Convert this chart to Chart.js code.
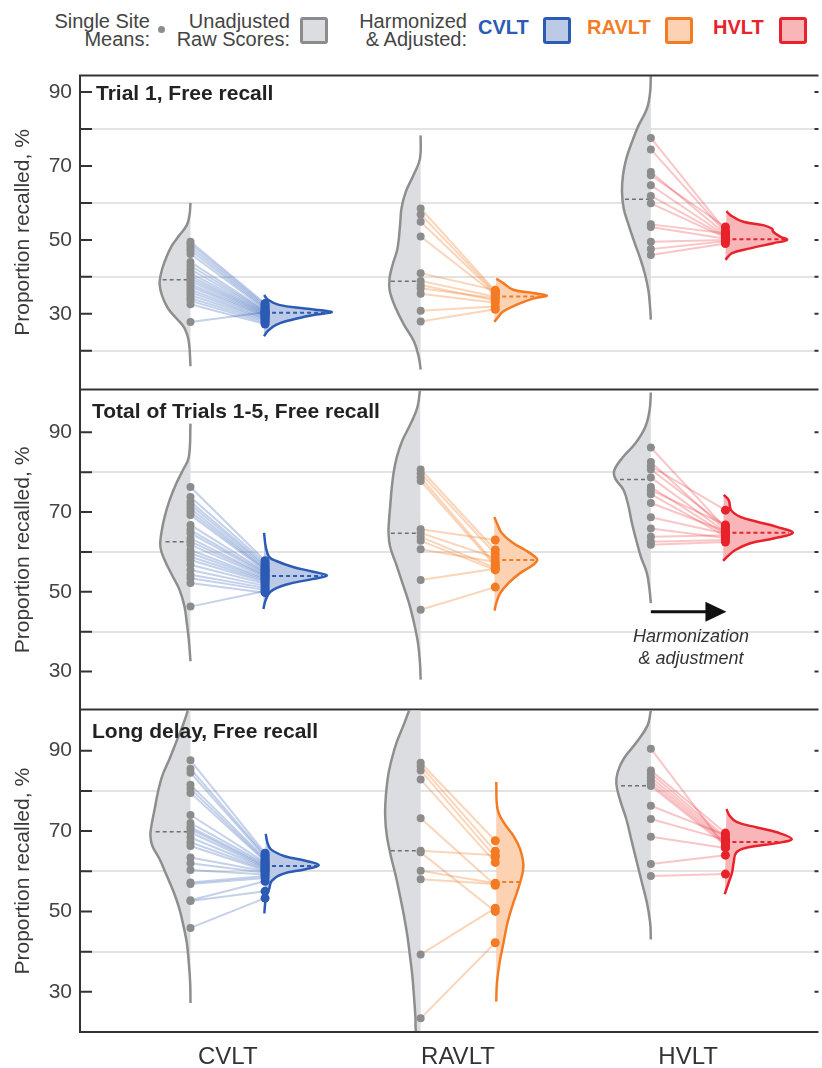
<!DOCTYPE html>
<html>
<head>
<meta charset="utf-8">
<script src="https://cdn.jsdelivr.net/npm/chart.js@4.4.1/dist/chart.umd.min.js"></script>
<style>
  body { margin: 0; background: #fff; font-family: 'Liberation Sans', Arial, sans-serif; }
  #page { position: relative; width: 822px; height: 1068px; overflow: hidden; background: #fff; }
  .panel { position: absolute; left: 0; }
  .panel canvas { display: block; }
  .legend-text { position: absolute; font-size: 20px; line-height: 17.5px; color: #444; text-align: right; white-space: nowrap; }
  .legend-test { position: absolute; top: 17px; font-size: 20px; font-weight: bold; line-height: 20px; white-space: nowrap; }
  .swatch { position: absolute; top: 17px; width: 22px; height: 21px; border: 3px solid; border-radius: 3px; }
  .legend-dot { position: absolute; left: 158px; top: 26px; width: 7px; height: 7px; border-radius: 50%; background: #8c8c8c; }
  .panel-title { position: absolute; font-size: 21px; font-weight: bold; line-height: 21px; color: #222; white-space: nowrap; z-index: 2; }
  .note { position: absolute; width: 160px; font-size: 18px; font-style: italic; line-height: 22px; color: #333; text-align: center; z-index: 2; }
</style>
</head>
<body>
<div id="page">
  <div class="legend-text" style="right: 672px; top: 13px;">Single Site<br>Means:</div>
  <div class="legend-dot"></div>
  <div class="legend-text" style="right: 532px; top: 13px;">Unadjusted<br>Raw Scores:</div>
  <div class="swatch" style="left: 300px; border-color: #8c8c8c; background: #dcdde0;"></div>
  <div class="legend-text" style="right: 355px; top: 13px;">Harmonized<br>&amp; Adjusted:</div>
  <div class="legend-test" style="left: 478px; color: #2b5bb4;">CVLT</div>
  <div class="swatch" style="left: 543px; border-color: #2b5bb4; background: #bccae6;"></div>
  <div class="legend-test" style="left: 587px; color: #f47b24;">RAVLT</div>
  <div class="swatch" style="left: 665px; border-color: #f47b24; background: #fcd2b3;"></div>
  <div class="legend-test" style="left: 713px; color: #e8222b;">HVLT</div>
  <div class="swatch" style="left: 779px; border-color: #e8222b; background: #f8b6b9;"></div>

  <div class="panel" style="top: 71px;"><canvas id="panel1" width="822" height="323"></canvas></div>
  <div class="panel" style="top: 386px;"><canvas id="panel2" width="822" height="328"></canvas></div>
  <div class="panel" style="top: 706px;"><canvas id="panel3" width="822" height="362"></canvas></div>

  <div class="panel-title" id="title1" style="left: 96px; top: 82px;"></div>
  <div class="panel-title" id="title2" style="left: 92px; top: 400px;"></div>
  <div class="panel-title" id="title3" style="left: 92px; top: 720px;"></div>
  <div class="note" style="left: 611px; top: 625px;">Harmonization<br>&amp; adjustment</div>
</div>
<script>
const tests = ['CVLT', 'RAVLT', 'HVLT'];
const panelTitles = ['Trial 1, Free recall', 'Total of Trials 1-5, Free recall', 'Long delay, Free recall'];
const yTickValues = [10, 20, 30, 40, 50, 60, 70, 80, 90, 100];
const yTickLabels = [30, 50, 70, 90];
const gridValues = [20, 40, 60, 80];
const trial1Range = [9.5, 94.5];
const totalRange = [20.5, 100.5];
const delayRange = [20, 100];

// site means (%), raw and harmonized, same order so index k is one site
const trial1RawCVLT = [49.5, 48.8, 48, 47.2, 46.2, 44, 43, 42, 41, 40.2, 39.5, 38.8, 38, 37.3, 36.5, 35.8, 35, 34.2, 33.5, 32.6, 27.8];
const trial1AdjCVLT = [32.8, 32.4, 32, 31.6, 31.3, 31, 30.7, 30.5, 30.3, 30.1, 29.9, 29.7, 29.5, 29.3, 29, 28.7, 28.4, 28, 27.6, 27.2, 30.4];
const trial1RawRAVLT = [58.5, 56.9, 54.9, 50.9, 41, 38.9, 37.8, 36.9, 35.4, 30.8, 27.9];
const trial1AdjRAVLT = [36.2, 35.8, 35.5, 35.2, 36.4, 34.6, 33.6, 34.2, 33, 32, 31.2];
const trial1RawHVLT = [77.6, 74.5, 68.4, 67.5, 64.8, 61.9, 59.9, 54.2, 53.5, 49.5, 47.5, 45.9];
const trial1AdjHVLT = [52.5, 52, 51.6, 53.5, 51.2, 50.9, 50.6, 51.8, 50.3, 50, 49.6, 49];

const totalRawCVLT = [76.3, 73.8, 72.6, 71.8, 70.9, 70.1, 69.3, 66.8, 65.5, 64.7, 63.4, 62.6, 61.8, 60.5, 59.7, 58.8, 58, 56.8, 55.5, 54.3, 53.4, 52.2, 46.3];
const totalAdjCVLT = [57.8, 57.3, 56.8, 56.4, 56, 55.7, 55.4, 55.1, 54.8, 54.5, 54.2, 54, 53.7, 53.4, 53.1, 52.8, 52.4, 52, 51.5, 51, 50.5, 49.8, 50.2];
const totalRawRAVLT = [80.7, 79.7, 78.7, 77.8, 65.7, 64.8, 63.8, 62.8, 60.7, 53, 45.5];
const totalAdjRAVLT = [60.5, 59.5, 57, 56.5, 63, 58.5, 56, 55.5, 57.5, 55.8, 51.2];
const totalRawHVLT = [86.2, 82.6, 81.5, 80.7, 78.7, 76.3, 75.5, 74.5, 72.3, 68.7, 65.9, 63.8, 62.6, 61.8];
const totalAdjHVLT = [66, 65.5, 70.5, 66.5, 65, 64.5, 66.8, 64, 65.2, 64.6, 63.5, 64.2, 63, 62.5];

const delayRawCVLT = [87.6, 85.5, 84.5, 81.5, 80.5, 79.5, 74, 72, 71, 70.5, 69.7, 68.4, 67.2, 66.3, 63.4, 62, 60.3, 57.2, 56.8, 52.8, 52.6, 45.9];
const delayAdjCVLT = [64.5, 64, 63.6, 63.2, 62.8, 62.5, 62.2, 61.9, 61.6, 61.3, 61, 60.8, 60.5, 60.2, 60, 59.6, 59.2, 58.8, 58.3, 57.5, 55, 53.3];
const delayRawRAVLT = [87, 86.2, 85.1, 82.8, 73.2, 65.1, 64.7, 60.1, 58, 39.3, 23.4];
const delayAdjRAVLT = [67.6, 65, 63.5, 62.2, 56.5, 64, 50, 57, 56.8, 50.8, 42.2];
const delayRawHVLT = [90.5, 85.1, 84.3, 83.4, 82.6, 81.8, 81.2, 76.3, 73, 68.6, 61.8, 58.8];
const delayAdjHVLT = [66, 69.5, 68.5, 68, 67.5, 67, 66.5, 69, 67.8, 65.8, 64, 59.3];

// half-violin density profiles: [score %, density]
const trial1RawViolinCVLT = [[60, 0], [56.7, 1], [54, 3.7], [51.3, 11], [48.2, 19.3], [44.1, 26], [40.5, 30], [37.8, 31], [34.7, 28.3], [31.5, 22.7], [28.8, 14.3], [26.1, 6], [22.5, 1.7], [15.8, 0]];
const trial1AdjViolinCVLT = [[35.1, -1], [33.8, 3], [32.4, 14], [31.4, 40], [30.5, 67], [29.6, 47], [28.4, 27], [27, 11], [25.2, 2.3], [23.9, -1]];
const trial1RawViolinRAVLT = [[78.3, 0], [72, 0.7], [67.5, 7.3], [63, 15], [58.5, 19.3], [54, 20.7], [47.7, 23.3], [43.2, 28.3], [39.6, 31.3], [36, 31], [31.5, 25], [27, 16.7], [22.5, 6.7], [18, 1.7], [14.9, 0]];
const trial1AdjViolinRAVLT = [[39.5, 1], [38.3, 8], [36.5, 18], [35.6, 38], [34.9, 52], [34.1, 38], [32.4, 21], [30.6, 8], [28.8, 2], [27.8, -1]];
const trial1RawViolinHVLT = [[96, 0], [90, 0.7], [85.5, 4], [81, 12.3], [76.5, 19], [72, 24.7], [67.5, 28], [63, 29], [58.5, 27.3], [54, 22.3], [49.5, 16.7], [45, 10.7], [40.5, 5.7], [36, 2.3], [31.5, 0.7], [28.4, 0]];
const trial1AdjViolinHVLT = [[57.8, 1], [56.7, 5], [54.9, 18], [54, 38], [53, 47], [52.2, 48], [50.9, 55], [50, 62], [49.1, 48], [47.7, 25], [46.4, 6.7], [44.6, 0]];

const totalRawViolinCVLT = [[92.2, 0], [83.8, 1.7], [80.5, 7.7], [77.2, 14.3], [73, 21], [68.8, 26], [64.7, 29.3], [61.3, 30.3], [58, 26], [53.8, 17.7], [50.5, 11], [46.3, 6], [42.2, 3.7], [38, 1.7], [32.6, 0]];
const totalAdjViolinCVLT = [[64.8, -1], [61.3, 0.7], [58.8, 4], [57.8, 10.7], [56.3, 27.3], [55.1, 47.3], [54.1, 62.3], [53.2, 47.3], [51.8, 20.7], [50.1, 5.7], [48, 0.7], [45.7, -1.7]];
const totalRawViolinRAVLT = [[101, 0.5], [96.3, 3.3], [92.2, 10], [88, 18.3], [83.8, 24], [79.7, 27.3], [75.5, 29.3], [71.3, 30.7], [67.2, 32], [64.7, 32.3], [61.3, 30.7], [57.2, 25], [52.2, 18.3], [47.2, 11.7], [42.2, 6.7], [37.2, 2.7], [32.2, 0.7], [28, 0]];
const totalAdjViolinRAVLT = [[68.8, -1], [67.2, 1.7], [64.7, 6.7], [62.2, 18.3], [60.5, 30], [58.8, 40], [58, 42.3], [56.8, 38.3], [54.7, 25], [52.2, 13.3], [49.7, 5], [47.2, 1], [45.3, -0.7]];
const totalRawViolinHVLT = [[100, 0], [95.5, 1.3], [91.3, 5.7], [87.2, 15.7], [83.8, 28], [80.5, 36.7], [78.4, 35.7], [75.5, 27.3], [71.3, 22.3], [67.2, 19], [63, 14.7], [58.8, 10], [54.7, 4], [50.5, 1.3], [47.2, 0]];
const totalAdjViolinHVLT = [[74.3, -1.7], [73, 3.3], [70.5, 5.7], [68.8, 15], [67.6, 31.7], [66.3, 51.7], [64.8, 67.7], [63.4, 48.3], [62.2, 25], [60.5, 10], [58.8, 1.7], [57.8, -2.3]];

const delayRawViolinCVLT = [[103, 0], [100, 2.7], [96.3, 7.7], [92.2, 14.3], [88, 21], [83.8, 28.3], [79.7, 32.7], [75.5, 36], [71.3, 39.3], [68.8, 40.3], [66.3, 38.3], [63, 31], [58.8, 23.7], [54.7, 16.7], [50.5, 11], [46.3, 7], [42.2, 3.7], [37.2, 1.7], [32.2, 0.3], [27.2, 0]];
const delayAdjViolinCVLT = [[69.3, 0.7], [67.2, 2.3], [65.5, 5.7], [63.8, 19], [62.6, 40.7], [61.5, 54], [60.5, 40.7], [59.3, 17.3], [57.6, 6.7], [55.5, 4], [53.8, 1.3], [51.8, 0], [49.5, -0.7]];
const delayRawViolinRAVLT = [[106, 0], [100.5, 10.7], [96.3, 17.3], [92.2, 24], [88, 29], [83.8, 32.7], [78.8, 35], [73.8, 35.7], [68.8, 34], [63.8, 30], [58.8, 25], [53.8, 20.7], [48.8, 16.7], [43.8, 13.3], [38.8, 10.7], [33.8, 8.3], [28.8, 6.7], [23.8, 5.3], [20, 4.7], [15, 0]];
const delayAdjViolinRAVLT = [[82.2, 1], [75.5, 2.3], [72.2, 8.3], [68.8, 18.3], [65.5, 25], [61.3, 28.3], [57.2, 25], [52.2, 18.3], [47.2, 12.3], [42.2, 8.3], [37.2, 4.3], [32.2, 1.7], [27.6, 1]];
const delayRawViolinHVLT = [[100, 0], [96.3, 3.3], [92.2, 14], [88, 27.3], [84.7, 33.3], [81.8, 34.7], [78, 31.3], [73, 24.7], [67.2, 19], [62.2, 14], [57.2, 9], [52.2, 4], [47.2, 0.7], [43, 0]];
const delayAdjViolinHVLT = [[75.5, 1], [73.8, 4.3], [72.2, 11.7], [70.9, 31.7], [69.7, 51.7], [68, 66.7], [67, 51.7], [65.9, 21.7], [64.7, 11], [62.2, 8.3], [59.7, 6.7], [57.2, 3.3], [54.3, -0.7]];

// distribution means: [score %, density at the mean]
const trial1RawMeans = [[39.2, 28], [38.8, 30], [61, 26]];
const trial1AdjMeans = [[30.3, 60], [34.7, 45], [50.2, 60]];
const totalRawMeans = [[62.6, 25], [64.7, 30], [78.2, 31]];
const totalAdjMeans = [[54, 58], [58, 40], [64.8, 64]];
const delayRawMeans = [[69.8, 35], [65.1, 30], [81.3, 30]];
const delayAdjMeans = [[61.3, 52], [57.3, 25], [67.3, 62]];

const panels = [
  {
    title: panelTitles[0], range: trial1Range,
    raw: [trial1RawCVLT, trial1RawRAVLT, trial1RawHVLT],
    adj: [trial1AdjCVLT, trial1AdjRAVLT, trial1AdjHVLT],
    rawViolin: [trial1RawViolinCVLT, trial1RawViolinRAVLT, trial1RawViolinHVLT],
    adjViolin: [trial1AdjViolinCVLT, trial1AdjViolinRAVLT, trial1AdjViolinHVLT],
    rawMean: trial1RawMeans, adjMean: trial1AdjMeans,
  },
  {
    title: panelTitles[1], range: totalRange,
    raw: [totalRawCVLT, totalRawRAVLT, totalRawHVLT],
    adj: [totalAdjCVLT, totalAdjRAVLT, totalAdjHVLT],
    rawViolin: [totalRawViolinCVLT, totalRawViolinRAVLT, totalRawViolinHVLT],
    adjViolin: [totalAdjViolinCVLT, totalAdjViolinRAVLT, totalAdjViolinHVLT],
    rawMean: totalRawMeans, adjMean: totalAdjMeans,
  },
  {
    title: panelTitles[2], range: delayRange,
    raw: [delayRawCVLT, delayRawRAVLT, delayRawHVLT],
    adj: [delayAdjCVLT, delayAdjRAVLT, delayAdjHVLT],
    rawViolin: [delayRawViolinCVLT, delayRawViolinRAVLT, delayRawViolinHVLT],
    adjViolin: [delayAdjViolinCVLT, delayAdjViolinRAVLT, delayAdjViolinHVLT],
    rawMean: delayRawMeans, adjMean: delayAdjMeans,
  },
];

const FONT = "'Liberation Sans', Arial, sans-serif";
const DENSITY_TO_X = 1 / 231.4;
const RAW_OFFSET = -0.162;
const ADJ_OFFSET = 0.162;
const X_MIN = -0.642;
const X_MAX = 2.562;
const AXIS_COLOR = '#333';

const style = {
  CVLT: { line: '#2b5bb4', fill: '#bccae6', link: 'rgba(43, 91, 180, 0.28)' },
  RAVLT: { line: '#f47b24', fill: '#fcd2b3', link: 'rgba(244, 123, 36, 0.32)' },
  HVLT: { line: '#e8222b', fill: '#f8b6b9', link: 'rgba(232, 34, 43, 0.26)' },
};
const gray = { line: '#8e8e8e', fill: '#dcdde0', dot: '#8c8c8c', mean: '#707070' };

function column(x, values) {
  return values.map((v) => ({ x, y: v }));
}

function violin(x, profile, side) {
  return profile.map(([v, d]) => ({ x: x + side * d * DENSITY_TO_X, y: v }));
}

function buildDatasets(panel) {
  const sets = [];
  tests.forEach((test, i) => {
    const rawX = i + RAW_OFFSET;
    const adjX = i + ADJ_OFFSET;
    const c = style[test];
    const raw = panel.raw[i];
    const adj = panel.adj[i];
    const [rawMean, rawMeanD] = panel.rawMean[i];
    const [adjMean, adjMeanD] = panel.adjMean[i];

    sets.push({
      data: column(rawX, raw), showLine: false, fill: false,
      pointRadius: 4, pointBackgroundColor: gray.dot, pointBorderWidth: 0, order: 0,
    });
    sets.push({
      data: column(adjX, adj), showLine: false, fill: false,
      pointRadius: 4.5, pointBackgroundColor: c.line, pointBorderWidth: 0, order: 0,
    });
    raw.forEach((v, k) => {
      sets.push({
        data: [{ x: rawX, y: v }, { x: adjX, y: adj[k] }],
        borderColor: c.link, borderWidth: 2, pointRadius: 0, fill: false, order: 2,
      });
    });
    sets.push({
      data: [{ x: rawX - rawMeanD * DENSITY_TO_X, y: rawMean }, { x: rawX, y: rawMean }],
      borderColor: gray.mean, borderWidth: 1.5, borderDash: [4, 3], pointRadius: 0, fill: false, order: 1,
    });
    sets.push({
      data: [{ x: adjX, y: adjMean }, { x: adjX + adjMeanD * DENSITY_TO_X, y: adjMean }],
      borderColor: c.line, borderWidth: 2, borderDash: [4, 3], pointRadius: 0, fill: false, order: 1,
    });
    sets.push({
      data: violin(rawX, panel.rawViolin[i], -1),
      borderColor: gray.line, backgroundColor: gray.fill, borderWidth: 2.5,
      fill: 'shape', tension: 0.4, pointRadius: 0, order: 3,
    });
    sets.push({
      data: violin(adjX, panel.adjViolin[i], 1),
      borderColor: c.line, backgroundColor: c.fill, borderWidth: 2.5,
      fill: 'shape', tension: 0.4, pointRadius: 0, order: 3,
    });
  });
  return sets;
}

// panel frame, inward tick marks and the arrow note
const framePlugin = {
  id: 'frame',
  afterDatasetsDraw(chart, args, opts) {
    const { ctx, chartArea: a, scales: { x, y } } = chart;
    ctx.save();
    ctx.strokeStyle = AXIS_COLOR;
    ctx.lineWidth = 2;
    ctx.beginPath();
    y.ticks.forEach((t) => {
      const py = y.getPixelForValue(t.value);
      ctx.moveTo(a.left, py);
      ctx.lineTo(a.left + 12, py);
      ctx.moveTo(a.right - 3, py);
      ctx.lineTo(a.right + 1, py);
    });
    if (opts.top) {
      ctx.moveTo(a.left, a.top);
      ctx.lineTo(a.right + 1, a.top);
    }
    ctx.moveTo(a.left, a.bottom);
    ctx.lineTo(a.right + 1, a.bottom);
    ctx.moveTo(a.left, a.top - 1);
    ctx.lineTo(a.left, a.bottom + 1);
    ctx.stroke();

    if (opts.arrow) {
      const x0 = x.getPixelForValue(opts.arrow.from);
      const x1 = x.getPixelForValue(opts.arrow.to);
      const py = y.getPixelForValue(opts.arrow.value);
      ctx.strokeStyle = '#111';
      ctx.fillStyle = '#111';
      ctx.lineWidth = 3;
      ctx.beginPath();
      ctx.moveTo(x0, py);
      ctx.lineTo(x1 - 16, py);
      ctx.stroke();
      ctx.beginPath();
      ctx.moveTo(x1 + 1, py);
      ctx.lineTo(x1 - 20, py - 10);
      ctx.lineTo(x1 - 20, py + 10);
      ctx.closePath();
      ctx.fill();
    }
    ctx.restore();
  },
};

function makeChart(canvas, panel, index) {
  const last = index === panels.length - 1;
  return new Chart(canvas, {
    type: 'line',
    data: { datasets: buildDatasets(panel) },
    plugins: [framePlugin],
    options: {
      responsive: false,
      animation: false,
      events: [],
      layout: { padding: { top: 4, bottom: last ? 0 : 4, left: 0, right: 1 } },
      plugins: {
        legend: { display: false },
        tooltip: { enabled: false },
        frame: {
          top: index === 0,
          arrow: index === 1 ? { from: 2 + RAW_OFFSET, to: 2 + ADJ_OFFSET, value: 45 } : null,
        },
      },
      scales: {
        x: {
          type: 'linear',
          min: X_MIN,
          max: X_MAX,
          display: last,
          grid: { display: false },
          border: { display: false },
          ticks: {
            stepSize: 1,
            includeBounds: false,
            padding: 3,
            color: '#333',
            font: { size: 24, family: FONT },
            callback: (v) => tests[Math.round(v)] ?? '',
          },
          afterFit: (s) => {
            if (last) s.height = 36;
            s.paddingLeft = 0;
            s.paddingRight = 0;
          },
        },
        y: {
          type: 'linear',
          min: panel.range[0],
          max: panel.range[1],
          afterBuildTicks: (s) => {
            s.ticks = yTickValues.filter((v) => v > s.min + 1 && v < s.max - 1).map((v) => ({ value: v }));
          },
          grid: {
            drawTicks: false,
            lineWidth: 2,
            color: (ctx) => (gridValues.includes(ctx.tick.value) ? '#e3e3e3' : 'rgba(0,0,0,0)'),
          },
          border: { display: false },
          ticks: {
            autoSkip: false,
            padding: 8,
            color: '#444',
            font: { size: 21, family: FONT },
            callback: (v) => (yTickLabels.includes(v) ? String(v) : ''),
          },
          title: {
            display: true,
            text: 'Proportion recalled, %',
            color: '#3a3a3a',
            font: { size: 21, family: FONT },
            padding: { top: 11, bottom: 0 },
          },
          afterFit: (s) => {
            s.width = 80;
            s.paddingTop = 0;
            s.paddingBottom = 0;
          },
        },
      },
    },
  });
}

panels.forEach((panel, i) => {
  document.querySelector(`#title${i + 1}`).textContent = panel.title;
  makeChart(document.querySelector(`#panel${i + 1}`), panel, i);
});
</script>
</body>
</html>
